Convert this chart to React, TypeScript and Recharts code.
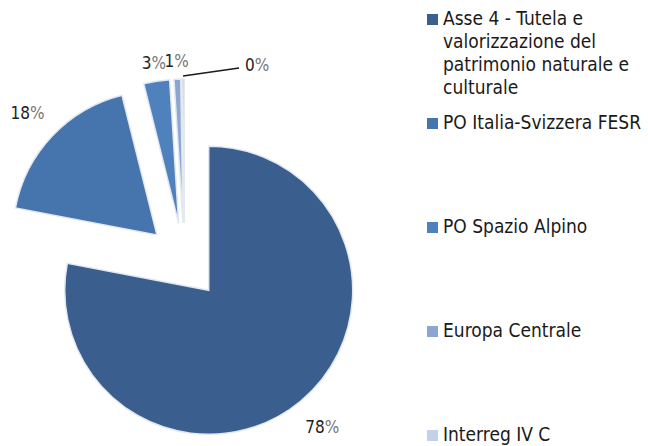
import { Legend, Pie, PieChart, Sector } from 'recharts';

const categories = [
  'Asse 4 - Tutela e valorizzazione del patrimonio naturale e culturale',
  'PO Italia-Svizzera FESR',
  'PO Spazio Alpino',
  'Europa Centrale',
  'Interreg IV C',
];
const shares = [78.0, 18.1, 2.9, 0.75, 0.25];
const colors = ['#3a5f8e', '#4674ac', '#4f81bd', '#8ca6d3', '#c3d1e8'];

const data = categories.map((name, i) => ({ name, value: shares[i], fill: colors[i] }));

const FONT = "'DejaVu Sans Condensed', 'DejaVu Sans', sans-serif";
const RAD = Math.PI / 180;
const EXPLODE = 38;

const dir = (midAngle: number) => ({ c: Math.cos(-midAngle * RAD), s: Math.sin(-midAngle * RAD) });

const ExplodedSector = (props: any) => {
  const { cx, cy, midAngle, outerRadius, startAngle, endAngle, fill } = props;
  const { c, s } = dir(midAngle);
  return (
    <Sector
      cx={cx + EXPLODE * c}
      cy={cy + EXPLODE * s}
      innerRadius={0}
      outerRadius={outerRadius}
      startAngle={startAngle}
      endAngle={endAngle}
      fill={fill}
      stroke="#e3e8ef"
      strokeWidth={1.5}
    />
  );
};

const renderLabel = (props: any) => {
  const { cx, cy, midAngle, outerRadius, percent, index } = props;
  const { c, s } = dir(midAngle);
  const ox = cx + EXPLODE * c;
  const oy = cy + EXPLODE * s;
  const pct = Math.round(percent * 100);
  const txt = (x: number, y: number, anchor: 'middle' | 'start') => (
    <text x={x} y={y} textAnchor={anchor} dominantBaseline="central" fontSize={17} fontFamily={FONT} fill="#222">
      {pct}
      <tspan fill="#777">%</tspan>
    </text>
  );
  if (percent < 0.005) {
    const x0 = ox + (outerRadius + 3) * c;
    const y0 = oy + (outerRadius + 3) * s;
    return (
      <g key={`lbl-${index}`}>
        <polyline points={`${x0},${y0} ${x0 + 56},${y0 - 8}`} stroke="#1a1a1a" strokeWidth={1.5} fill="none" />
        {txt(x0 + 62, y0 - 11, 'start')}
      </g>
    );
  }
  const r = outerRadius + (percent > 0.1 ? 34 : 18);
  return <g key={`lbl-${index}`}>{txt(ox + r * c, oy + r * s, 'middle')}</g>;
};

const renderLegend = () => (
  <div style={{ fontFamily: FONT, fontSize: 19, lineHeight: '23px', color: '#1a1a1a' }}>
    {data.map(entry => (
      <div key={entry.name} style={{ height: 104, display: 'flex', alignItems: 'flex-start' }}>
        <span
          style={{
            display: 'inline-block',
            width: 11,
            height: 11,
            marginTop: 7,
            marginRight: 5,
            flex: '0 0 auto',
            background: entry.fill,
          }}
        />
        <span style={{ width: 205 }}>{entry.name}</span>
      </div>
    ))}
  </div>
);

export default function App() {
  return (
    <div style={{ position: 'absolute', left: 0, top: 0, width: 648, height: 446, background: '#fff', fontFamily: FONT }}>
      <PieChart width={648} height={446} margin={{ top: 0, right: 0, bottom: 0, left: 0 }}>
        <Pie
          data={data}
          dataKey="value"
          nameKey="name"
          cx={184.5}
          cy={261}
          outerRadius={144}
          startAngle={90}
          endAngle={-270}
          shape={ExplodedSector}
          label={renderLabel}
          labelLine={false}
          legendType="square"
          isAnimationActive={false}
        />
        <Legend
          layout="vertical"
          verticalAlign="top"
          align="right"
          wrapperStyle={{ left: 427, top: 6.5, width: 221 }}
          content={renderLegend}
        />
      </PieChart>
    </div>
  );
}
